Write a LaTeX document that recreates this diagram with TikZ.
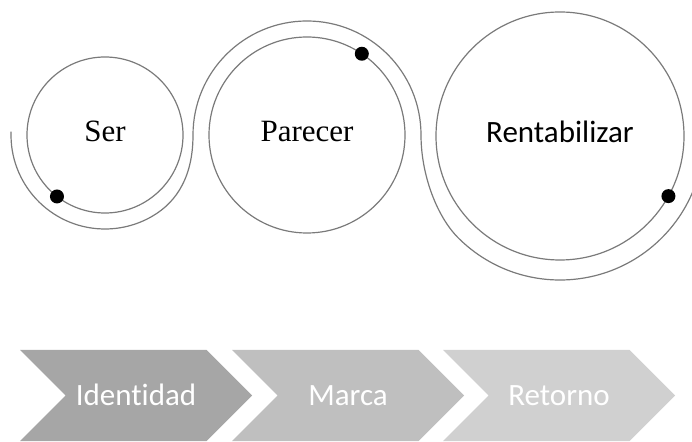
\documentclass[tikz,border=0pt]{standalone}
\usepackage{fontspec}
\setmainfont{Liberation Serif}
\newfontfamily\chevfont[Ligatures=NoCommon]{Carlito}
\usepackage{tikz}
\usetikzlibrary{shapes.symbols}
\definecolor{ringgray}{HTML}{7A7A7A}
\definecolor{stepA}{HTML}{A6A6A6}
\definecolor{stepB}{HTML}{BFBFBF}
\definecolor{stepC}{HTML}{D0D0D0}

\begin{document}
\begin{tikzpicture}[x=1pt,y=1pt,
  ring/.style={draw=ringgray,line width=1.2pt},
  disc/.style={ring,circle,inner sep=0pt,outer sep=0pt,text depth=8pt,font=\fontsize{31}{36}\selectfont},
  dot/.style={circle,fill=black,inner sep=0pt,minimum size=14pt},
  chev/.style={signal,signal to=east,signal from=west,signal pointer angle=90,
    minimum width=232pt,minimum height=91pt,inner sep=0pt,text=white,
    text height=21pt,text depth=0pt,
    font=\chevfont\fontsize{31}{36}\selectfont}]
\useasboundingbox (0,0) rectangle (692,441);
\node[disc,minimum size=156pt] (ser) at (105,306) {Ser};
\node[disc,minimum size=196pt] (par) at (307,306) {Parecer};
\node[disc,minimum size=248pt,font=\chevfont\fontsize{31}{36}\selectfont] (ren) at (560,305) {Rentabilizar};
\draw[ring] ([shift={(178:94pt)}]ser.center) arc[start angle=178, end angle=300, radius=94pt]
  .. controls +(30:30pt) and +(0,-40pt) .. ([shift={(180:114pt)}]par.center)
  arc[start angle=180, end angle=0, radius=114pt]
  .. controls +(0,-40pt) and +(135:30pt) .. ([shift={(225:144pt)}]ren.center)
  arc[start angle=225, end angle=370, radius=144pt];
\node[dot] (serdot) at (ser.232) {};
\node[dot] (pardot) at (par.56) {};
\node[dot] (rendot) at (ren.-29) {};
\node[chev,fill=stepA] (ident) at (136,45.5) {Identidad};
\node[chev,fill=stepB] (marca) at (348,45.5) {Marca};
\node[chev,fill=stepC] (retorno) at (559,45.5) {Retorno};
\end{tikzpicture}
\end{document}
